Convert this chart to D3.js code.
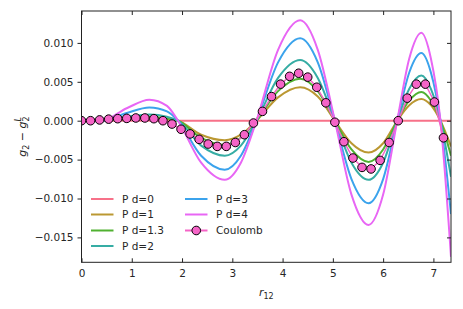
<!DOCTYPE html>
<html>
<head>
<meta charset="utf-8">
<script src="https://cdn.jsdelivr.net/npm/d3@7"></script>
<style>
  body { margin: 0; background: #fff; }
  text { font-family: "DejaVu Sans", sans-serif; }
</style>
</head>
<body>
<svg id="chart" width="463" height="309"></svg>
<script>
// knots (x in r12)
const pX = [0, 0.4, 0.9, 1.35, 1.7, 1.92, 2.38, 2.85, 3.17, 3.48, 3.91, 4.35, 4.7, 5.04, 5.37, 5.71, 6.0, 6.28, 6.52, 6.76, 6.95, 7.14, 7.35];

const pd0 = pX.map(() => 0);
const pd1 = [0, 0, 0.0002, 0.0003, 0.0002, 0, -0.0018, -0.0025, -0.0018, 0, 0.0030, 0.0043, 0.0031, 0, -0.0029, -0.0041, -0.0029, 0, 0.0020, 0.0028, 0.0020, 0, -0.0033];
const pd13 = [0, 0, 0.0003, 0.0005, 0.0003, 0, -0.0022, -0.0031, -0.0022, 0, 0.0038, 0.0054, 0.0038, 0, -0.0037, -0.0053, -0.0037, 0, 0.0026, 0.0037, 0.0026, 0, -0.0045];
const pd2 = [0, 0, 0.0005, 0.0008, 0.0005, 0, -0.0032, -0.0045, -0.0032, 0, 0.0055, 0.0078, 0.0055, 0, -0.0054, -0.0076, -0.0054, 0, 0.0041, 0.0058, 0.0041, 0, -0.0072];
const pd3 = [0, 0, 0.0010, 0.0017, 0.0012, 0, -0.0045, -0.0063, -0.0045, 0, 0.0075, 0.0106, 0.0075, 0, -0.0075, -0.0106, -0.0075, 0, 0.0062, 0.0087, 0.0062, 0, -0.0120];
const pd4 = [0, 0, 0.0016, 0.0027, 0.0019, 0, -0.0054, -0.0076, -0.0054, 0, 0.0091, 0.0129, 0.0091, 0, -0.0095, -0.0134, -0.0095, 0, 0.0080, 0.0113, 0.0080, 0, -0.0175];

// Coulomb markers, every 0.18
const cX = d3.range(41).map(i => +(i * 0.18).toFixed(2));
const cY = [0, 0, 0.0001, 0.0002, 0.00026, 0.0003, 0.00035, 0.00035, 0.00026, 0, -0.00043,
  -0.0011, -0.0017, -0.0024, -0.0030, -0.0033, -0.0033, -0.0028, -0.0018, -0.0003, 0.0012,
  0.0031, 0.0047, 0.0057, 0.0061, 0.0056, 0.0043, 0.0023, -0.0002, -0.0027, -0.0048,
  -0.0060, -0.0062, -0.0051, -0.0028, 0, 0.0029, 0.0047, 0.0047, 0.0024, -0.0022];

const labels = ['P d=0', 'P d=1', 'P d=1.3', 'P d=2', 'P d=3', 'P d=4'];
const colors = ['#f77189', '#bb9832', '#50b131', '#36ada4', '#3ba3ec', '#e866f4'];
const coulombColor = '#f564c7';
const xTicks = [0, 1, 2, 3, 4, 5, 6, 7];
const yTicks = [-0.015, -0.010, -0.005, 0, 0.005, 0.010];

const series = [pd0, pd1, pd13, pd2, pd3, pd4];

const m = { left: 81.5, top: 11, right: 451, bottom: 262.3 };
const x = d3.scaleLinear().domain([0, 7.35]).range([m.left, m.right]);
const y = d3.scaleLinear().domain([-0.0182, 0.0141]).range([m.bottom, m.top]);

const svg = d3.select('#chart');

svg.append('defs').append('clipPath').attr('id', 'clip')
  .append('rect').attr('x', m.left).attr('y', m.top)
  .attr('width', m.right - m.left).attr('height', m.bottom - m.top);

const plot = svg.append('g').attr('clip-path', 'url(#clip)');

const line = d3.line().x(d => x(d[0])).y(d => y(d[1])).curve(d3.curveMonotoneX);

series.forEach((s, i) => {
  plot.append('path')
    .attr('d', line(pX.map((v, j) => [v, s[j]])))
    .attr('fill', 'none')
    .attr('stroke', colors[i])
    .attr('stroke-width', 2);
});

const cData = cX.map((v, j) => [v, cY[j]]);
plot.append('path')
  .attr('d', d3.line().x(d => x(d[0])).y(d => y(d[1]))(cData))
  .attr('fill', 'none').attr('stroke', coulombColor).attr('stroke-width', 1.5);
plot.selectAll('circle.c').data(cData).enter().append('circle')
  .attr('class', 'c')
  .attr('cx', d => x(d[0])).attr('cy', d => y(d[1])).attr('r', 4.3)
  .attr('fill', coulombColor).attr('stroke', '#000').attr('stroke-width', 1);

// axes
const fmtY = v => d3.format('.3f')(v).replace('-', '\u2212');
const xb = svg.append('g').attr('transform', `translate(0,${m.bottom})`)
  .call(d3.axisBottom(x).tickValues(xTicks).tickSize(-4).tickPadding(7).tickFormat(d3.format('d')));
const xt = svg.append('g').attr('transform', `translate(0,${m.top})`)
  .call(d3.axisTop(x).tickValues(xTicks).tickSize(-4).tickFormat(''));
const yl = svg.append('g').attr('transform', `translate(${m.left},0)`)
  .call(d3.axisLeft(y).tickValues(yTicks).tickSize(4).tickPadding(4).tickFormat(fmtY));
const yr = svg.append('g').attr('transform', `translate(${m.right},0)`)
  .call(d3.axisRight(y).tickValues(yTicks).tickSize(-4).tickFormat(''));

[xb, xt, yl, yr].forEach(g => {
  g.select('.domain').remove();
  g.selectAll('line').attr('stroke', '#222');
  g.selectAll('text').attr('font-size', 10.5).attr('fill', '#262626')
    .attr('font-family', '"DejaVu Sans", sans-serif');
});

svg.append('rect')
  .attr('x', m.left).attr('y', m.top)
  .attr('width', m.right - m.left).attr('height', m.bottom - m.top)
  .attr('fill', 'none').attr('stroke', '#222').attr('stroke-width', 1);

// axis labels
const xl = svg.append('text').attr('x', (m.left + m.right) / 2).attr('y', 296)
  .attr('text-anchor', 'middle').attr('font-family', '"DejaVu Serif", serif')
  .attr('font-size', 11).attr('fill', '#262626');
xl.append('tspan').attr('font-style', 'italic').text('r');
xl.append('tspan').attr('font-size', 8).attr('dy', 2.5).text('12');

const yLab = svg.append('text')
  .attr('transform', `translate(26,${(m.top + m.bottom) / 2}) rotate(-90)`)
  .attr('text-anchor', 'middle').attr('font-family', '"DejaVu Serif", serif')
  .attr('font-size', 11).attr('fill', '#262626');
yLab.append('tspan').attr('font-style', 'italic').text('g');
yLab.append('tspan').attr('font-size', 8).attr('dy', 2.5).text('2');
yLab.append('tspan').attr('dy', -2.5).text(' \u2212 ');
yLab.append('tspan').attr('font-style', 'italic').text('g');
yLab.append('tspan').attr('font-size', 8).attr('dy', 2.5).text('2');
yLab.append('tspan').attr('font-size', 8).attr('font-style', 'italic').attr('dx', -5).attr('dy', -8).text('L');

// legend
const legItems = labels.map((l, i) => ({ label: l, color: colors[i], marker: false }))
  .concat([{ label: 'Coulomb', color: coulombColor, marker: true }]);
const rowY = [199, 214.5, 230.5, 246];
const colX = [91, 185];
const leg = svg.append('g');
legItems.forEach((d, i) => {
  const col = i < 4 ? 0 : 1;
  const row = i < 4 ? i : i - 4;
  const g = leg.append('g').attr('transform', `translate(${colX[col]},${rowY[row]})`);
  g.append('line').attr('x1', 0).attr('x2', 22.5).attr('stroke', d.color).attr('stroke-width', 2);
  if (d.marker) {
    g.append('circle').attr('cx', 11.25).attr('r', 4.3).attr('fill', d.color)
      .attr('stroke', '#000').attr('stroke-width', 1);
  }
  g.append('text').attr('x', 31).attr('y', 3.8).attr('font-size', 10.5)
    .attr('fill', '#262626').text(d.label);
});
</script>
</body>
</html>
